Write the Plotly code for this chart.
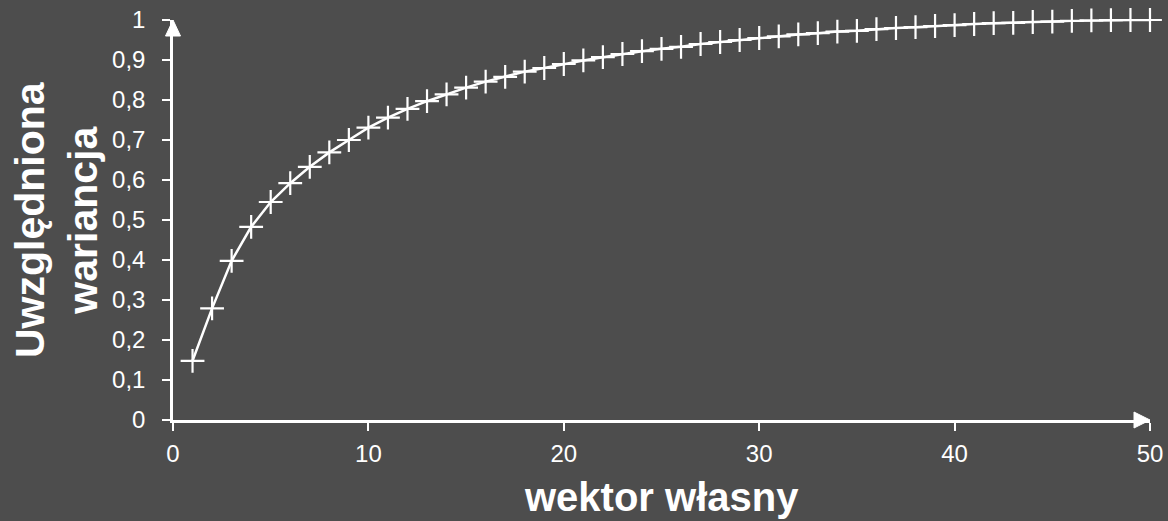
import plotly.graph_objects as go

# Data
eigvec = list(range(1, 51))
variance = [0.148, 0.279, 0.398, 0.483, 0.545, 0.592, 0.633, 0.669, 0.700, 0.731,
            0.756, 0.778, 0.797, 0.814, 0.831, 0.846, 0.858, 0.871, 0.880, 0.890,
            0.899, 0.907, 0.915, 0.922, 0.928, 0.933, 0.940, 0.945, 0.950, 0.955,
            0.959, 0.964, 0.967, 0.971, 0.973, 0.977, 0.980, 0.982, 0.985, 0.987,
            0.990, 0.992, 0.993, 0.995, 0.996, 0.998, 0.999, 0.9995, 1.0, 1.0]
x_title = "wektor własny"
y_title = "Uwzględniona<br>wariancja"

BG = "#4d4d4d"
FONT = "Liberation Sans, Arial, sans-serif"

fig = go.Figure()
fig.add_trace(go.Scatter(
    x=eigvec, y=variance, mode="lines+markers",
    line=dict(color="white", width=2.5),
    marker=dict(symbol="cross-thin", size=17, line=dict(color="white", width=2.2)),
    cliponaxis=False, showlegend=False,
))

axis_common = dict(
    showline=True, linecolor="white", linewidth=2.5,
    ticks="outside", tickcolor="white", ticklen=8, tickwidth=2,
    showgrid=False, zeroline=False, automargin=False,
    tickfont=dict(family=FONT, size=24, color="white"),
)
fig.update_xaxes(range=[0, 50], dtick=10, tick0=0, ticklabelstandoff=2, **axis_common)
fig.update_yaxes(range=[0, 1], dtick=0.1, tick0=0, ticklabelstandoff=12, **axis_common)

# arrow heads at axis ends (paper-referenced so they are not clipped)
fig.add_shape(type="path", xref="paper", yref="paper", xsizemode="pixel", ysizemode="pixel",
              xanchor=0, yanchor=1, path="M -7.5,-16 L 0,0 L 7.5,-16 Z",
              fillcolor="white", line=dict(color="white", width=1))
fig.add_shape(type="path", xref="paper", yref="paper", xsizemode="pixel", ysizemode="pixel",
              xanchor=1, yanchor=0, path="M -16,-8 L 0,0 L -16,8 Z",
              fillcolor="white", line=dict(color="white", width=1))

fig.add_annotation(text=y_title, xref="paper", yref="paper", x=0, y=0.5,
                   xshift=-117, textangle=-90, showarrow=False,
                   xanchor="center", yanchor="middle",
                   font=dict(family=FONT, size=41, color="white", weight="bold"))
fig.add_annotation(text=x_title, xref="paper", yref="paper", x=0.5, y=0,
                   yshift=-77, showarrow=False, xanchor="center", yanchor="middle",
                   font=dict(family=FONT, size=40, color="white", weight="bold"))

fig.update_layout(
    width=1168, height=521, autosize=False,
    margin=dict(l=173, r=18, t=20, b=101, autoexpand=False),
    paper_bgcolor=BG, plot_bgcolor=BG,
    separators=", ",
    font=dict(family=FONT, color="white"),
)
fig.write_html("out.html",
               config={"displayModeBar": False, "responsive": False},
               post_script="document.body.style.margin='0';document.body.style.overflow='hidden';document.body.style.background='#4d4d4d';")
